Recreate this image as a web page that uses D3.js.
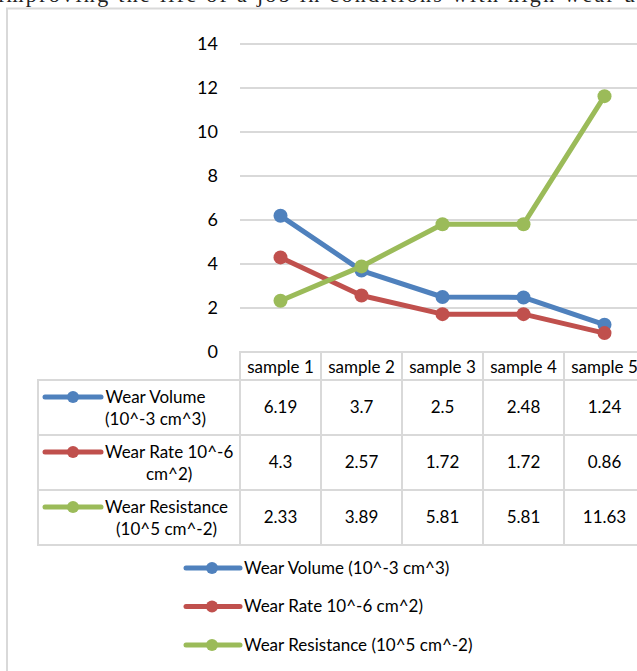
<!DOCTYPE html>
<html>
<head>
<meta charset="utf-8">
<script src="https://cdn.jsdelivr.net/npm/d3@7"></script>
<style>
  html, body { margin: 0; padding: 0; background: #fff; overflow: hidden; }
  svg { display: block; }
</style>
</head>
<body>
<svg id="chart" width="637" height="671"></svg>
<script>
// ---- data ----
const categories = ["sample 1", "sample 2", "sample 3", "sample 4", "sample 5"];
const wearVolume = [6.19, 3.7, 2.5, 2.48, 1.24];
const wearRate = [4.3, 2.57, 1.72, 1.72, 0.86];
const wearResistance = [2.33, 3.89, 5.81, 5.81, 11.63];
const seriesNames = ["Wear Volume (10^-3 cm^3)", "Wear Rate 10^-6 cm^2)", "Wear Resistance (10^5 cm^-2)"];
const tableLabelLines = [["Wear Volume", "(10^-3 cm^3)"], ["Wear Rate 10^-6", "cm^2)"], ["Wear Resistance", "(10^5 cm^-2)"]];
const yTicks = [0, 2, 4, 6, 8, 10, 12, 14];
const headerText = "improving the life of a job in conditions with high wear use";

const seriesValues = [wearVolume, wearRate, wearResistance];
const colors = ["#4F81BD", "#C0504D", "#9BBB59"];
const series = seriesNames.map((n, i) => ({ name: n, values: seriesValues[i], color: colors[i], lines: tableLabelLines[i] }));

const svg = d3.select("#chart");
const font = "Lato, 'Open Sans', sans-serif";
const grid = "#d9d9d9";
const fs = 17;

// clipped document text above the chart
svg.append("text")
  .attr("x", -2).attr("y", 2)
  .attr("font-family", "'Liberation Serif', 'DejaVu Serif', serif")
  .attr("font-size", 22)
  .attr("fill", "#222")
  .attr("textLength", 660)
  .attr("lengthAdjust", "spacing")
  .text(headerText);

// chart frame
svg.append("rect")
  .attr("x", 7).attr("y", 8.5).attr("width", 700).attr("height", 700)
  .attr("fill", "#fff").attr("stroke", grid).attr("stroke-width", 2);

// scales
const x = d3.scaleBand().domain(categories).range([240, 645]);
const y = d3.scaleLinear().domain([0, 14]).range([352, 44]);

// gridlines
svg.append("g").selectAll("line").data(yTicks.filter(t => t > 0)).join("line")
  .attr("x1", 240).attr("x2", 645)
  .attr("y1", d => y(d)).attr("y2", d => y(d))
  .attr("stroke", grid).attr("stroke-width", 2);

// y axis labels
const yAxis = d3.axisLeft(y).tickValues(yTicks).tickSize(0).tickPadding(22);
const gy = svg.append("g").attr("transform", "translate(240,0)").call(yAxis);
gy.select(".domain").remove();
gy.selectAll("text").attr("font-family", font).attr("font-size", 18).attr("fill", "#000");

// data table
const rowY = d3.scaleBand().domain(seriesNames).range([380, 545]);
const tableLeft = 38, tableRight = 645;
const tg = svg.append("g");
// header row
tg.append("rect").attr("x", 240).attr("y", 352).attr("width", tableRight - 240).attr("height", 28)
  .attr("fill", "none").attr("stroke", grid).attr("stroke-width", 2);
tg.selectAll(".hdr").data(categories).join("text")
  .attr("x", d => x(d) + x.bandwidth() / 2).attr("y", 367).attr("dy", "0.35em")
  .attr("text-anchor", "middle").attr("font-family", font).attr("font-size", fs).attr("fill", "#000")
  .text(d => d);
// body rows
tg.selectAll(".rowrect").data(series).join("rect")
  .attr("x", tableLeft).attr("y", d => rowY(d.name)).attr("width", tableRight - tableLeft).attr("height", rowY.bandwidth())
  .attr("fill", "none").attr("stroke", grid).attr("stroke-width", 2);
// column lines
tg.selectAll(".col").data(categories).join("line")
  .attr("x1", d => x(d)).attr("x2", d => x(d))
  .attr("y1", 352).attr("y2", 545)
  .attr("stroke", grid).attr("stroke-width", 2);

// values
series.forEach(s => {
  tg.append("g").selectAll("text").data(s.values).join("text")
    .attr("x", (d, i) => x(categories[i]) + x.bandwidth() / 2)
    .attr("y", rowY(s.name) + rowY.bandwidth() / 2).attr("dy", "0.35em")
    .attr("text-anchor", "middle").attr("font-family", font).attr("font-size", fs).attr("fill", "#000")
    .text(d => d);
  // label block
  const top = rowY(s.name);
  const lg = tg.append("g");
  const texts = lg.selectAll("text").data(s.lines).join("text")
    .attr("y", (d, i) => top + 17 + i * 22).attr("dy", "0.35em")
    .attr("font-family", font).attr("font-size", fs).attr("fill", "#000")
    .text(d => d);
  const widths = [];
  texts.each(function () { widths.push(this.getComputedTextLength()); });
  const maxW = d3.max(widths);
  const left = 105;
  texts.attr("x", (d, i) => left + (maxW - widths[i]) / 2);
  // symbol
  lg.append("line").attr("x1", 45).attr("x2", 101).attr("y1", top + 17).attr("y2", top + 17)
    .attr("stroke", s.color).attr("stroke-width", 5).attr("stroke-linecap", "round");
  lg.append("circle").attr("cx", 73).attr("cy", top + 17).attr("r", 6).attr("fill", s.color);
});

// lines
const line = d3.line().x((d, i) => x(categories[i]) + x.bandwidth() / 2).y(d => y(d));
const pg = svg.append("g");
series.forEach(s => {
  pg.append("path").datum(s.values).attr("d", line)
    .attr("fill", "none").attr("stroke", s.color).attr("stroke-width", 5)
    .attr("stroke-linejoin", "round").attr("stroke-linecap", "round");
  pg.append("g").selectAll("circle").data(s.values).join("circle")
    .attr("cx", (d, i) => x(categories[i]) + x.bandwidth() / 2)
    .attr("cy", d => y(d)).attr("r", 7).attr("fill", s.color);
});

// legend
const legY = d3.scalePoint().domain(seriesNames).range([568, 645]);
const leg = svg.append("g");
series.forEach(s => {
  const yy = legY(s.name);
  leg.append("line").attr("x1", 186).attr("x2", 240).attr("y1", yy).attr("y2", yy)
    .attr("stroke", s.color).attr("stroke-width", 5).attr("stroke-linecap", "round");
  leg.append("circle").attr("cx", 212).attr("cy", yy).attr("r", 6).attr("fill", s.color);
  leg.append("text").attr("x", 244).attr("y", yy).attr("dy", "0.35em")
    .attr("font-family", font).attr("font-size", fs).attr("fill", "#000").text(s.name);
});
</script>
</body>
</html>
